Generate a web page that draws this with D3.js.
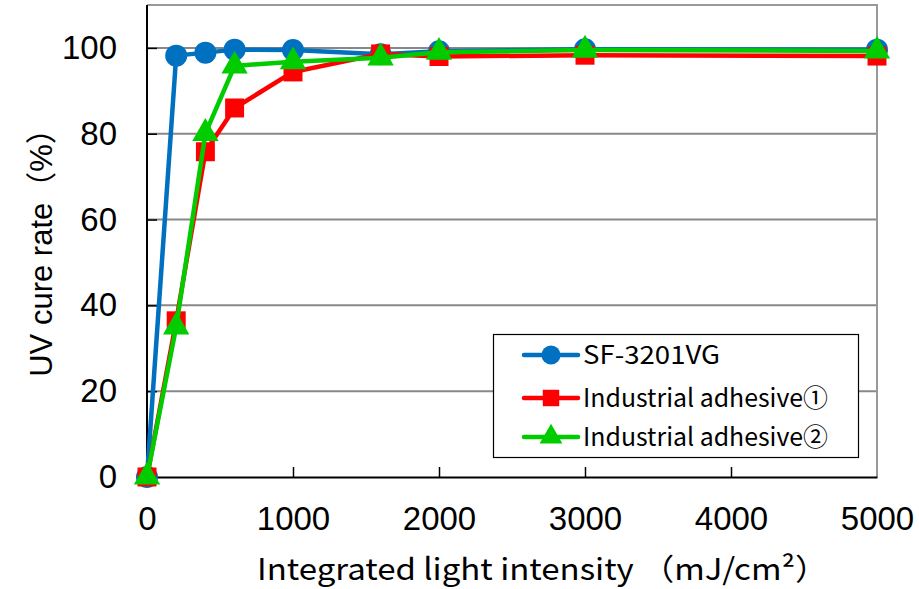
<!DOCTYPE html>
<html>
	<head>
		<meta charset="utf-8" />
		<script src="https://cdn.jsdelivr.net/npm/d3@7"></script>
		<title>UV cure rate</title>
		<style>
			body { margin: 0; background: #fff; }
		</style>
	</head>
	<body>
<script>
// data
var doses = [0, 200, 400, 600, 1000, 1600, 2000, 3000, 5000]
var sf3201 = [0, 98.2, 98.9, 99.6, 99.5, 98.5, 99.2, 99.7, 99.6]
var adhesive1 = [0, 36.4, 75.8, 86.0, 94.4, 98.6, 98.0, 98.3, 98.1]
var adhesive2 = [0, 35.0, 80.1, 95.8, 96.8, 97.7, 99.0, 99.5, 99.3]
var seriesNames = ["SF-3201VG", "Industrial adhesive①", "Industrial adhesive②"]
var xTicks = [0, 1000, 2000, 3000, 4000, 5000]
var yTicks = [0, 20, 40, 60, 80, 100]

var w = 919
var h = 589
var pLeft = 147, pRight = 877, pTop = 5, pBottom = 477

var svg = d3.select("body")
		.append("svg")
		.attr("width", w)
		.attr("height", h)

var x = d3.scaleLinear().domain([0, 5000]).range([pLeft, pRight])
var y = d3.scaleLinear().domain([0, 110]).range([pBottom, pTop])

// gridlines + plot frame
svg.append("g").selectAll("line")
	.data(yTicks.slice(1))
	.enter().append("line")
	.attr("x1", pLeft).attr("x2", pRight)
	.attr("y1", function(d) { return y(d) })
	.attr("y2", function(d) { return y(d) })
	.attr("stroke", "#888")
	.attr("stroke-width", 2)

svg.append("path")
	.attr("d", "M" + pLeft + "," + pTop + "H" + pRight + "V" + pBottom)
	.attr("fill", "none")
	.attr("stroke", "#999")
	.attr("stroke-width", 2)

// axes, ticks point inward
var fontNum = "'Liberation Sans', Arial, sans-serif"
var fontJp = "'Noto Sans CJK JP', sans-serif"

var xAxis = svg.append("g")
	.attr("transform", "translate(0," + pBottom + ")")
	.call(d3.axisBottom(x).tickValues(xTicks).tickFormat(d3.format("d")).tickSize(-10).tickSizeOuter(0))
var yAxis = svg.append("g")
	.attr("transform", "translate(" + pLeft + ",0)")
	.call(d3.axisLeft(y).tickValues(yTicks).tickFormat(d3.format("d")).tickSize(-10).tickSizeOuter(0))
yAxis.select(".domain").attr("d", "M0," + pBottom + "V" + pTop)

;[xAxis, yAxis].forEach(function(a) {
	a.select(".domain").attr("stroke", "#000").attr("stroke-width", 2)
	a.selectAll(".tick line").attr("stroke", "#000").attr("stroke-width", 1.5)
	a.selectAll(".tick text")
		.attr("fill", "#000")
		.style("font-family", fontNum)
		.style("font-size", "33px")
})
xAxis.selectAll(".tick text").attr("dy", 0).attr("y", 53)
yAxis.selectAll(".tick text").attr("x", -30)
xAxis.selectAll(".tick").filter(function(d) { return d == 0 || d == 5000 }).select("line").remove()

// axis titles
svg.append("text")
	.attr("x", 257)
	.attr("y", 580)
	.attr("textLength", 571)
	.attr("lengthAdjust", "spacingAndGlyphs")
	.style("font-family", fontJp)
	.style("font-size", "30px")
	.text("Integrated light intensity （mJ/cm²）")

svg.append("text")
	.attr("transform", "translate(52,245) rotate(-90)")
	.attr("text-anchor", "middle")
	.style("font-family", fontNum + ", " + fontJp)
	.style("font-size", "31px")
	.text("UV cure rate（%）")

// series
var series = [
	{ name: seriesNames[0], vals: sf3201, color: "#0070C0", shape: d3.symbolCircle, size: 380 },
	{ name: seriesNames[1], vals: adhesive1, color: "#FF0000", shape: d3.symbolSquare, size: 360 },
	{ name: seriesNames[2], vals: adhesive2, color: "#00CC00", shape: d3.symbolTriangle, size: 300 }
]

var line = d3.line()
	.x(function(d) { return x(d[0]) })
	.y(function(d) { return y(d[1]) })

series.forEach(function(s) {
	var pts = doses.map(function(d, i) { return [d, s.vals[i]] })
	var g = svg.append("g")
	g.append("path")
		.attr("d", line(pts))
		.attr("fill", "none")
		.attr("stroke", s.color)
		.attr("stroke-width", 4.5)
		.attr("stroke-linejoin", "round")
	g.selectAll("path.pt")
		.data(pts)
		.enter().append("path")
		.attr("class", "pt")
		.attr("transform", function(d) { return "translate(" + x(d[0]) + "," + y(d[1]) + ")" })
		.attr("d", d3.symbol().type(s.shape).size(s.size))
		.attr("fill", s.color)
})

// legend
var lg = svg.append("g")
lg.append("rect")
	.attr("x", 493.5).attr("y", 334.5)
	.attr("width", 365).attr("height", 123)
	.attr("fill", "#fff")
	.attr("stroke", "#000")
	.attr("stroke-width", 1.2)

var rowY = [355, 398, 437]
var rowLen = [137, 245, 245]
series.forEach(function(s, i) {
	var row = lg.append("g").attr("transform", "translate(0," + rowY[i] + ")")
	row.append("line")
		.attr("x1", 524).attr("x2", 578)
		.attr("stroke", s.color)
		.attr("stroke-width", 4.5)
		.attr("stroke-linecap", "round")
	row.append("path")
		.attr("transform", "translate(551,0)")
		.attr("d", d3.symbol().type(s.shape).size(s.size * 0.75))
		.attr("fill", s.color)
	row.append("text")
		.attr("x", 583)
		.attr("dy", "0.36em")
		.attr("textLength", rowLen[i])
		.attr("lengthAdjust", "spacingAndGlyphs")
		.style("font-family", fontJp)
		.style("font-size", "25px")
		.text(s.name)
})
</script>
	</body>
</html>
